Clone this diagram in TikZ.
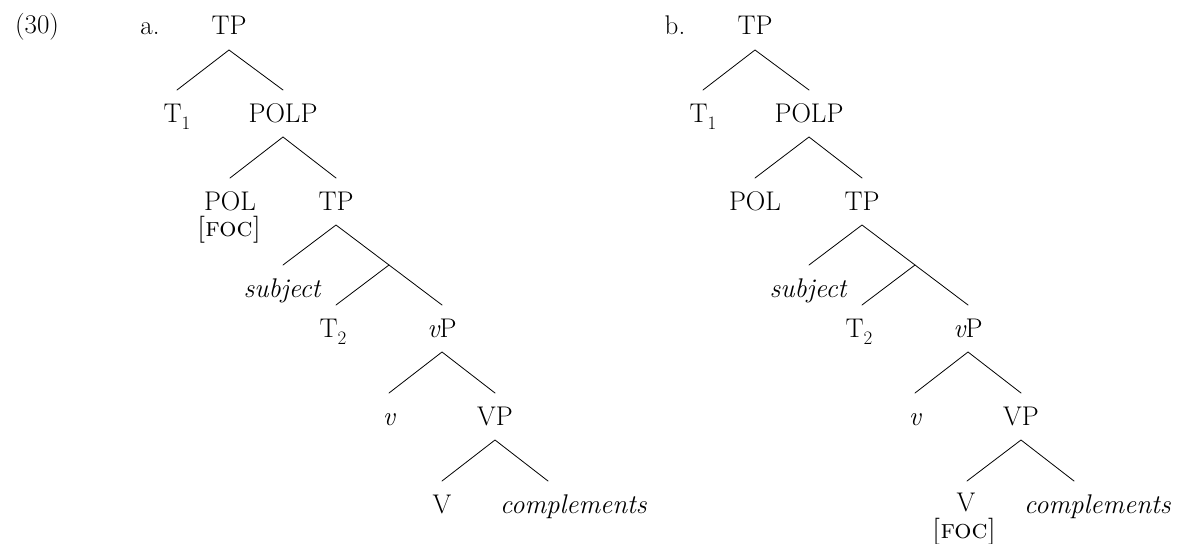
\documentclass[tikz,border=0pt]{standalone}
\usepackage{fontspec}
\usetikzlibrary{calc}
\tikzset{
  lbl/.style={anchor=base, inner sep=0pt, font=\fontsize{27}{31}\selectfont},
  branch/.style={line width=0.8pt, line cap=round}
}
\newcommand{\sub}[1]{\raisebox{-0.28em}{\fontsize{19}{22}\selectfont #1}}
\begin{document}
\begin{tikzpicture}[x=1pt,y=-1pt]
\useasboundingbox (0,0) rectangle (1190,543);
% example number
\node[lbl] (ex) at (37,34) {(30)};
% ---------------- tree a ----------------
\node[lbl] (alab) at (150,35) {a.};
\node[lbl] (aTP) at (229,35) {TP};
\node[lbl] (aT1) at (177,122) {T\sub{1}};
\node[lbl] (aPolP) at (283,122) {POLP};
\node[lbl] (aPol) at (230,210) {POL};
\node[lbl] (aFoc) at (229,236) {\textsc{[foc]}};
\node[lbl] (aTPb) at (336,210) {TP};
\node[lbl] (aSubj) at (282,297) {\itshape subject};
\node[lbl] (aT2) at (333,337) {T\sub{2}};
\node[lbl] (avP) at (442,337) {\itshape v\upshape P};
\node[lbl] (av) at (389,425) {\itshape v};
\node[lbl] (aVP) at (495,425) {VP};
\node[lbl] (aV) at (442,513) {V};
\node[lbl, anchor=base west] (aComp) at (500,513) {\itshape complements};
\coordinate (aTPbtop) at ($(aTPb.base)+(0,15)$);
\coordinate (avPbot) at ($(avP.base)+(0,-32)$);
\coordinate (aMid) at ($(aTPbtop)!0.5!(avPbot)$);
\draw[branch] ($(aT1.base)+(0,-32)$) -- ($(aTP.base)+(0,15)$) -- ($(aPolP.base)+(0,-32)$);
\draw[branch] ($(aPol.base)+(0,-32)$) -- ($(aPolP.base)+(0,15)$) -- ($(aTPb.base)+(0,-32)$);
\draw[branch] ($(aSubj.base)+(1,-32)$) -- (aTPbtop) -- (avPbot);
\draw[branch] ($(aT2.base)+(3,-32)$) -- (aMid);
\draw[branch] ($(av.base)+(0,-32)$) -- ($(avP.base)+(0,15)$) -- ($(aVP.base)+(0,-32)$);
\draw[branch] ($(aV.base)+(0,-32)$) -- ($(aVP.base)+(0,15)$) -- ($(aComp.base west)+(48,-32)$);
% ---------------- tree b ----------------
\node[lbl] (blab) at (675,35) {b.};
\node[lbl] (bTP) at (755,35) {TP};
\node[lbl] (bT1) at (703,122) {T\sub{1}};
\node[lbl] (bPolP) at (809,122) {POLP};
\node[lbl] (bPol) at (755,210) {POL};
\node[lbl] (bTPb) at (862,210) {TP};
\node[lbl] (bSubj) at (808,297) {\itshape subject};
\node[lbl] (bT2) at (859,337) {T\sub{2}};
\node[lbl] (bvP) at (968,337) {\itshape v\upshape P};
\node[lbl] (bv) at (915,425) {\itshape v};
\node[lbl] (bVP) at (1021,425) {VP};
\node[lbl] (bV) at (966,511) {V};
\node[lbl] (bFoc) at (964,538) {\textsc{[foc]}};
\node[lbl, anchor=base west] (bComp) at (1024,513) {\itshape complements};
\coordinate (bTPbtop) at ($(bTPb.base)+(0,15)$);
\coordinate (bvPbot) at ($(bvP.base)+(0,-32)$);
\coordinate (bMid) at ($(bTPbtop)!0.5!(bvPbot)$);
\draw[branch] ($(bT1.base)+(0,-32)$) -- ($(bTP.base)+(0,15)$) -- ($(bPolP.base)+(0,-32)$);
\draw[branch] ($(bPol.base)+(0,-32)$) -- ($(bPolP.base)+(0,15)$) -- ($(bTPb.base)+(0,-32)$);
\draw[branch] ($(bSubj.base)+(1,-32)$) -- (bTPbtop) -- (bvPbot);
\draw[branch] ($(bT2.base)+(3,-32)$) -- (bMid);
\draw[branch] ($(bv.base)+(0,-32)$) -- ($(bvP.base)+(0,15)$) -- ($(bVP.base)+(0,-32)$);
\draw[branch] ($(bV.base)+(1,-30)$) -- ($(bVP.base)+(0,15)$) -- ($(bComp.base west)+(50,-32)$);
\end{tikzpicture}
\end{document}
